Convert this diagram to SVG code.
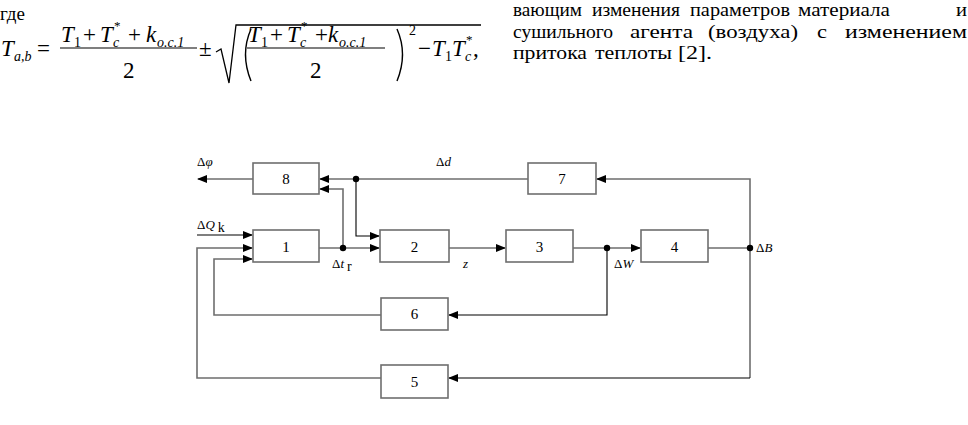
<svg xmlns="http://www.w3.org/2000/svg" width="968" height="425" viewBox="0 0 968 425" font-family="Liberation Serif">
<defs>
<marker id="ar" markerWidth="10" markerHeight="8" refX="9" refY="4" orient="auto" markerUnits="userSpaceOnUse">
<path d="M0,0 L10,4 L0,8 Z" fill="#000"/>
</marker>
<style>
.i{font-style:italic}
.box rect{fill:#fff;stroke:#6e6e6e;stroke-width:1.6}
.box text{font-size:15px;text-anchor:middle}
.g{fill:none;stroke:#6e6e6e;stroke-width:1.6}
.k{fill:none;stroke:#000;stroke-width:1.1}
.lbl text{font-size:13px}
</style>
</defs>
<rect width="968" height="425" fill="#fff"/>

<!-- top text -->
<g font-size="19" font-family="Liberation Serif">
<text x="0" y="20">где</text>
<text x="513" y="16" textLength="69" lengthAdjust="spacingAndGlyphs">вающим</text>
<text x="592" y="16" textLength="88" lengthAdjust="spacingAndGlyphs">изменения</text>
<text x="690" y="16" textLength="100" lengthAdjust="spacingAndGlyphs">параметров</text>
<text x="798" y="16" textLength="92" lengthAdjust="spacingAndGlyphs">материала</text>
<text x="956" y="16" textLength="11" lengthAdjust="spacingAndGlyphs">и</text>
<text x="513" y="38" textLength="100" lengthAdjust="spacingAndGlyphs">сушильного</text>
<text x="630" y="38" textLength="63" lengthAdjust="spacingAndGlyphs">агента</text>
<text x="708" y="38" textLength="90" lengthAdjust="spacingAndGlyphs">(воздуха)</text>
<text x="817" y="38" textLength="10" lengthAdjust="spacingAndGlyphs">с</text>
<text x="845" y="38" textLength="122" lengthAdjust="spacingAndGlyphs">изменением</text>
<text x="513" y="59" textLength="74" lengthAdjust="spacingAndGlyphs">притока</text>
<text x="595" y="59" textLength="77" lengthAdjust="spacingAndGlyphs">теплоты</text>
<text x="678" y="59" textLength="34" lengthAdjust="spacingAndGlyphs">[2].</text>
</g>

<!-- formula -->
<g font-family="Liberation Serif">
<text x="1" y="56" font-size="23" class="i">T</text>
<text x="14" y="61" font-size="14" class="i">a,b</text>
<text x="37" y="56" font-size="23">=</text>
<text x="61" y="42" font-size="23" class="i">T</text>
<text x="74" y="47" font-size="14">1</text>
<text x="83" y="42" font-size="23">+</text>
<text x="100" y="42" font-size="23" class="i">T</text>
<text x="114" y="30" font-size="13">*</text>
<text x="113" y="47" font-size="14" class="i">c</text>
<text x="128" y="42" font-size="23">+</text>
<text x="146" y="42" font-size="23" class="i">k</text>
<text x="157" y="47" font-size="14" class="i">o.c.1</text>
<line x1="60" y1="48" x2="197" y2="48" stroke="#000" stroke-width="1.2"/>
<text x="123" y="78" font-size="23">2</text>
<text x="199" y="56" font-size="23">±</text>
<path d="M216,52 L221,49 L229,83 L236,25 L481,25" fill="none" stroke="#000" stroke-width="1.3"/>
<path d="M251,29 Q240,54 251,81" fill="none" stroke="#000" stroke-width="1.4"/>
<text x="248" y="42" font-size="23" class="i">T</text>
<text x="261" y="47" font-size="14">1</text>
<text x="270" y="42" font-size="23">+</text>
<text x="287" y="42" font-size="23" class="i">T</text>
<text x="301" y="30" font-size="13">*</text>
<text x="300" y="47" font-size="14" class="i">c</text>
<text x="315" y="42" font-size="23">+</text>
<text x="328" y="42" font-size="23" class="i">k</text>
<text x="339" y="47" font-size="14" class="i">o.c.1</text>
<line x1="247" y1="48" x2="385" y2="48" stroke="#000" stroke-width="1.2"/>
<text x="310" y="78" font-size="23">2</text>
<path d="M397,29 Q408,54 397,81" fill="none" stroke="#000" stroke-width="1.4"/>
<text x="409" y="35" font-size="14">2</text>
<text x="418" y="56" font-size="23">−</text>
<text x="432" y="56" font-size="23" class="i">T</text>
<text x="445" y="61" font-size="14">1</text>
<text x="452" y="56" font-size="23" class="i">T</text>
<text x="466" y="44" font-size="13">*</text>
<text x="465" y="61" font-size="14" class="i">c</text>
<text x="473" y="56" font-size="23">,</text>
</g>

<!-- connectors -->
<g id="connectors">
<polyline class="g" points="253,179 198,179" marker-end="url(#ar)"/>
<polyline class="g" points="528,179 320,179" marker-end="url(#ar)"/>
<polyline class="k" points="356,179 356,236 379,236" marker-end="url(#ar)"/>
<polyline class="g" points="319,248 379,248" marker-end="url(#ar)"/>
<polyline class="g" points="343,248 343,189 320,189" marker-end="url(#ar)"/>
<polyline class="g" points="449,248 505,248" marker-end="url(#ar)"/>
<polyline class="g" points="573,248 640,248" marker-end="url(#ar)"/>
<polyline class="g" points="708,248 750,248"/>
<polyline class="g" points="750,248 750,179 597,179" marker-end="url(#ar)"/>
<polyline class="g" points="750,248 750,378"/>
<polyline class="k" points="750,378 449,378" marker-end="url(#ar)"/>
<polyline class="k" points="607,248 607,315 449,315" marker-end="url(#ar)"/>
<polyline class="g" points="381,315 214,315 214,259 252,259" marker-end="url(#ar)"/>
<polyline class="g" points="381,378 197,378 197,248 252,248" marker-end="url(#ar)"/>
<polyline class="k" points="197,235 252,235" marker-end="url(#ar)"/>
<circle cx="356" cy="179" r="3.2" fill="#000"/>
<circle cx="343" cy="248" r="3.2" fill="#000"/>
<circle cx="607" cy="248" r="3.2" fill="#000"/>
<circle cx="750" cy="248" r="3.2" fill="#000"/>
</g>

<!-- labels -->
<g class="lbl" font-family="Liberation Serif">
<text x="197" y="166">Δ<tspan font-style="italic">φ</tspan></text>
<text x="436" y="166">Δ<tspan font-style="italic">d</tspan></text>
<text x="197" y="229">Δ<tspan font-style="italic">Q</tspan><tspan dx="3" dy="3" font-size="14">k</tspan></text>
<text x="332" y="268">Δ<tspan font-style="italic">t</tspan><tspan dx="3" dy="3" font-size="14">r</tspan></text>
<text x="463" y="268" font-style="italic">z</text>
<text x="614" y="268">Δ<tspan font-style="italic">W</tspan></text>
<text x="756" y="252">Δ<tspan font-style="italic">B</tspan></text>
</g>

<!-- nodes -->
<g id="n8" class="box"><rect x="253" y="163" width="66" height="31"/><text x="286" y="184">8</text></g>
<g id="n7" class="box"><rect x="528" y="163" width="68" height="31"/><text x="562" y="184">7</text></g>
<g id="n1" class="box"><rect x="253" y="230" width="66" height="32"/><text x="286" y="252">1</text></g>
<g id="n2" class="box"><rect x="380" y="230" width="69" height="32"/><text x="414.5" y="252">2</text></g>
<g id="n3" class="box"><rect x="506" y="230" width="67" height="32"/><text x="539.5" y="252">3</text></g>
<g id="n4" class="box"><rect x="641" y="230" width="67" height="32"/><text x="674.5" y="252">4</text></g>
<g id="n6" class="box"><rect x="381" y="298" width="67" height="32"/><text x="414.5" y="319">6</text></g>
<g id="n5" class="box"><rect x="381" y="365" width="67" height="33"/><text x="414.5" y="387">5</text></g>
</svg>
